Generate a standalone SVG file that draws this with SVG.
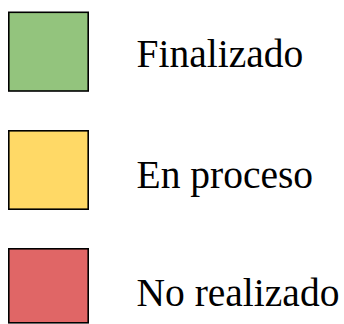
<svg xmlns="http://www.w3.org/2000/svg" width="344" height="324" viewBox="0 0 344 324">
<style>
.box{stroke:#000;stroke-width:1.6}
.lbl{font-family:"Liberation Serif","Times New Roman",serif;font-size:39.5px;fill:#000}
</style>
<rect width="344" height="324" fill="#fff"/>
<g id="finalizado">
<rect class="box" x="8.8" y="12.3" width="79.4" height="78.7" fill="#93c47d"/>
<text class="lbl" x="136.5" y="67">Finalizado</text>
</g>
<g id="en-proceso">
<rect class="box" x="8.8" y="130.8" width="79.4" height="78.4" fill="#ffd966"/>
<text class="lbl" x="136.5" y="188">En proceso</text>
</g>
<g id="no-realizado">
<rect class="box" x="8.8" y="248.8" width="79.4" height="74" fill="#e06666"/>
<text class="lbl" x="136.5" y="305.5">No realizado</text>
</g>
<g id="connectors"/>
</svg>
